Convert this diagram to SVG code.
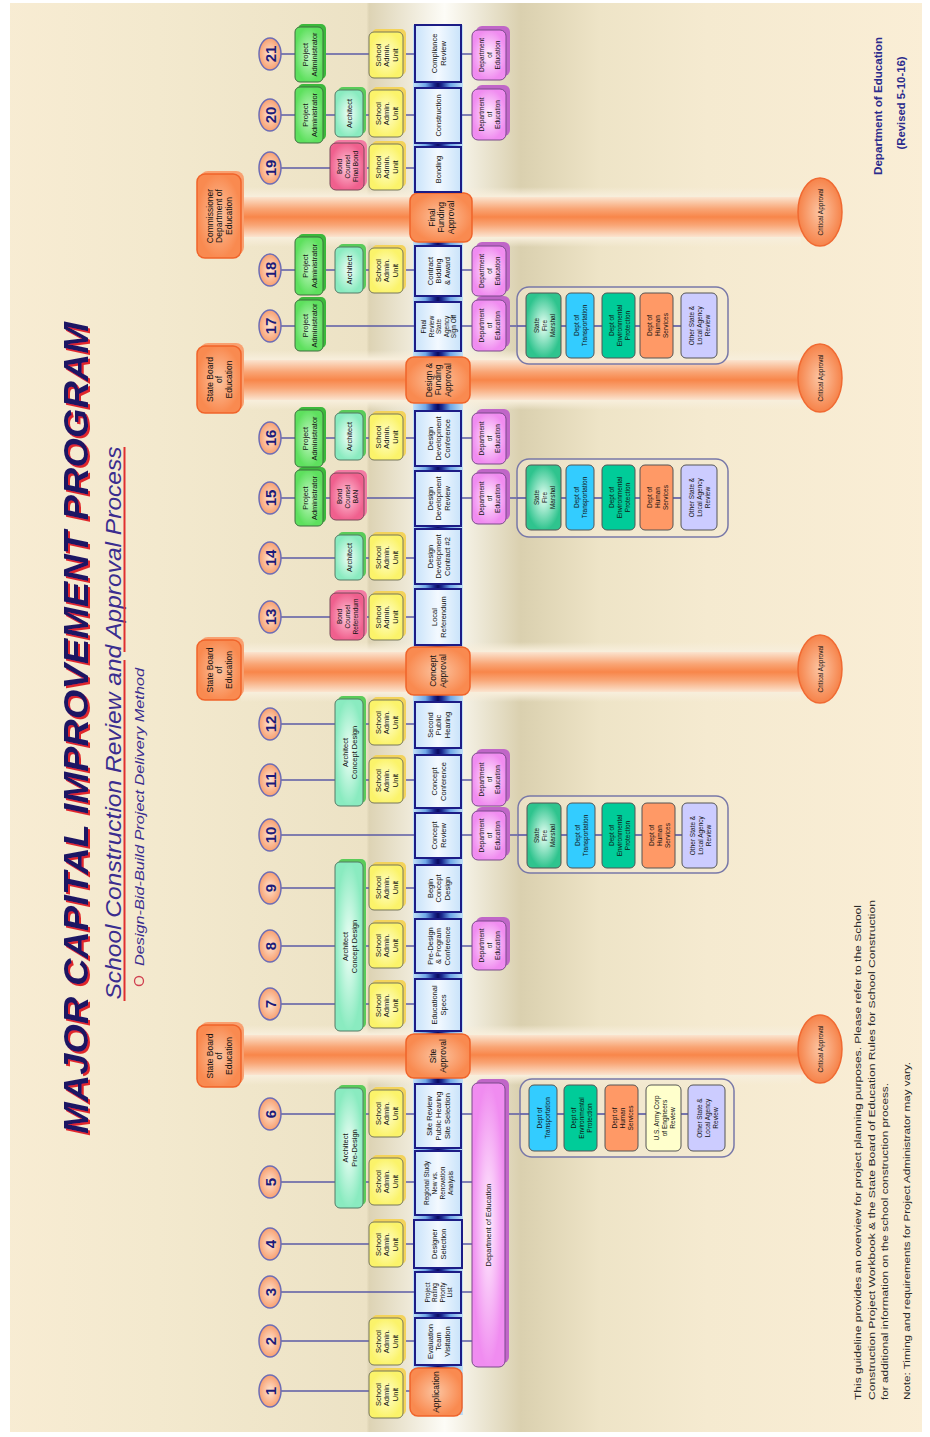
<svg xmlns="http://www.w3.org/2000/svg" width="930" height="1437" viewBox="0 0 930 1437">
<defs>
<linearGradient id="gBg" gradientUnits="userSpaceOnUse" x1="0" y1="0" x2="930" y2="0">
<stop offset="0" stop-color="#f8ecd3"/><stop offset="0.17" stop-color="#f3e9ce"/><stop offset="0.394" stop-color="#ece2c5"/><stop offset="0.397" stop-color="#ddd3b4"/><stop offset="0.478" stop-color="#fdfcf7"/><stop offset="0.56" stop-color="#dad0af"/><stop offset="0.645" stop-color="#eee4c7"/><stop offset="0.76" stop-color="#f5ead0"/><stop offset="1" stop-color="#faeed6"/>
</linearGradient>
<linearGradient id="gBand" x1="0" y1="0" x2="0" y2="1">
<stop offset="0" stop-color="#fbe4cf"/><stop offset="0.3" stop-color="#f9a575"/><stop offset="0.5" stop-color="#f8864a"/><stop offset="0.7" stop-color="#f9a575"/><stop offset="1" stop-color="#fbe4cf"/>
</linearGradient>
<linearGradient id="gGlow" x1="0" y1="0" x2="0" y2="1">
<stop offset="0" stop-color="#f7eedb" stop-opacity="0"/><stop offset="0.15" stop-color="#f7eedb"/><stop offset="0.85" stop-color="#f7eedb"/><stop offset="1" stop-color="#f7eedb" stop-opacity="0"/>
</linearGradient>
<linearGradient id="gSpine" x1="0" y1="0" x2="1" y2="0">
<stop offset="0" stop-color="#c2e1f8"/><stop offset="0.25" stop-color="#6fa8e8"/><stop offset="0.42" stop-color="#1a2a90"/><stop offset="0.5" stop-color="#0a0a60"/><stop offset="0.58" stop-color="#1a2a90"/><stop offset="0.75" stop-color="#6fa8e8"/><stop offset="1" stop-color="#c2e1f8"/>
</linearGradient>
<linearGradient id="gBlue" x1="0" y1="0" x2="1" y2="0">
<stop offset="0" stop-color="#c9e3fa"/><stop offset="0.5" stop-color="#f3f9ff"/><stop offset="1" stop-color="#c9e3fa"/>
</linearGradient>
<radialGradient id="gYel"><stop offset="0" stop-color="#ffffd2"/><stop offset="1" stop-color="#fbf36a"/></radialGradient>
<radialGradient id="gArch"><stop offset="0" stop-color="#f2fff9"/><stop offset="1" stop-color="#8aebc0"/></radialGradient>
<radialGradient id="gPA"><stop offset="0" stop-color="#c8f8c8"/><stop offset="1" stop-color="#5ee05e"/></radialGradient>
<radialGradient id="gBond"><stop offset="0" stop-color="#ffc8da"/><stop offset="1" stop-color="#f0608e"/></radialGradient>
<radialGradient id="gDoE"><stop offset="0" stop-color="#fff0fe"/><stop offset="1" stop-color="#f08cf0"/></radialGradient>
<radialGradient id="gOr"><stop offset="0" stop-color="#fcc4a0"/><stop offset="1" stop-color="#f98a50"/></radialGradient>
<radialGradient id="gNum"><stop offset="0" stop-color="#fde4d2"/><stop offset="1" stop-color="#f8a070"/></radialGradient>
<radialGradient id="gSFM"><stop offset="0" stop-color="#e8fff4"/><stop offset="1" stop-color="#2fc48e"/></radialGradient>
<radialGradient id="gCrit"><stop offset="0" stop-color="#fcc6a4"/><stop offset="1" stop-color="#f6834a"/></radialGradient>
<filter id="fRed" x="-5%" y="-5%" width="110%" height="110%">
<feOffset in="SourceAlpha" dx="-2" dy="2" result="o"/><feFlood flood-color="#e0282a"/><feComposite in2="o" operator="in" result="s"/><feMerge><feMergeNode in="s"/><feMergeNode in="SourceGraphic"/></feMerge>
</filter>
<style>
.t{font-family:"Liberation Sans",Arial,sans-serif;font-size:7.5px;fill:#111;text-anchor:middle;dominant-baseline:central}
.ts{font-size:6.5px}
.tb{font-size:8.5px}
.nt{font-family:"Liberation Sans",Arial,sans-serif;font-size:15px;font-weight:bold;fill:#1b1b7a;text-anchor:middle;dominant-baseline:central}
.num{fill:url(#gNum);stroke:#6d6db5;stroke-width:1.5}
.ln{stroke:#5b5ba6;stroke-width:1.4;fill:none}
.blue{fill:url(#gBlue);stroke:#1c1c86;stroke-width:2}
.yel{fill:url(#gYel);stroke:#77775a;stroke-width:1}
.ysh{fill:#f3d35a}
.arch{fill:url(#gArch);stroke:#557a66;stroke-width:1}
.ash{fill:#5acb5a}
.pa{fill:url(#gPA);stroke:#3f6f3f;stroke-width:1}
.psh{fill:#3cb83c}
.bond{fill:url(#gBond);stroke:#7a4a5a;stroke-width:1}
.bsh{fill:#f27aa3}
.doe{fill:url(#gDoE);stroke:#7a4a8a;stroke-width:1}
.dsh{fill:#c066c8}
.or{fill:url(#gOr);stroke:#f0642a;stroke-width:1.5}
.osh{fill:#f9a070}
.crit{fill:url(#gCrit);stroke:#f06a32;stroke-width:1.5}
.cont{fill:#f4ead2;stroke:#7878a8;stroke-width:1.5}
.ag{stroke:#555;stroke-width:1}
.dot{fill:#33ccff}.dep{fill:#00cc99}.dhs{fill:#ff9966}.army{fill:#ffffcc}.oth{fill:#ccccff}.sfm{fill:url(#gSFM)}
.band{fill:url(#gBand)}
.glow{fill:url(#gGlow)}
.ttl{font-family:"Liberation Sans",Arial,sans-serif;font-weight:bold;font-style:italic;font-size:35px;fill:#1b1464;text-anchor:middle}
.sub{font-family:"Liberation Sans",Arial,sans-serif;font-style:italic;fill:#3a2d8f;text-anchor:middle}
.foot{font-family:"Liberation Sans",Arial,sans-serif;font-size:9.5px;fill:#2a2a2a}
.dept{font-family:"Liberation Sans",Arial,sans-serif;font-size:11px;font-weight:bold;fill:#2b2b8c;text-anchor:middle}
</style>
</defs>

<rect x="0" y="0" width="930" height="1437" fill="#ffffff"/>
<rect x="10" y="3" width="912" height="1429" fill="url(#gBg)"/>

<g id="bands">
<rect class="glow" x="241" y="1025" width="560" height="60"/>
<rect class="glow" x="241" y="642" width="560" height="60"/>
<rect class="glow" x="241" y="350" width="560" height="60"/>
<rect class="glow" x="241" y="187" width="560" height="60"/>
<rect class="band" x="241" y="1035" width="565" height="40"/>
<rect class="band" x="241" y="652" width="565" height="40"/>
<rect class="band" x="241" y="360" width="565" height="40"/>
<rect class="band" x="241" y="197" width="565" height="40"/>
</g>

<rect id="spine" x="413" y="25" width="50" height="1390" fill="url(#gSpine)"/>

<g id="connectors">
<line class="ln" x1="281" y1="1391" x2="410" y2="1391"/>
<line class="ln" x1="281" y1="1341" x2="472" y2="1341"/>
<line class="ln" x1="281" y1="1292" x2="472" y2="1292"/>
<line class="ln" x1="281" y1="1244" x2="472" y2="1244"/>
<line class="ln" x1="281" y1="1182" x2="472" y2="1182"/>
<line class="ln" x1="281" y1="1114" x2="700" y2="1114"/>
<line class="ln" x1="281" y1="1004" x2="415" y2="1004"/>
<line class="ln" x1="281" y1="946" x2="475" y2="946"/>
<line class="ln" x1="281" y1="888" x2="415" y2="888"/>
<line class="ln" x1="281" y1="835" x2="700" y2="835"/>
<line class="ln" x1="281" y1="780" x2="475" y2="780"/>
<line class="ln" x1="281" y1="724" x2="415" y2="724"/>
<line class="ln" x1="281" y1="617" x2="415" y2="617"/>
<line class="ln" x1="281" y1="558" x2="415" y2="558"/>
<line class="ln" x1="281" y1="498" x2="700" y2="498"/>
<line class="ln" x1="281" y1="438" x2="475" y2="438"/>
<line class="ln" x1="281" y1="326" x2="700" y2="326"/>
<line class="ln" x1="281" y1="270" x2="475" y2="270"/>
<line class="ln" x1="281" y1="168" x2="415" y2="168"/>
<line class="ln" x1="281" y1="115" x2="475" y2="115"/>
<line class="ln" x1="281" y1="54" x2="475" y2="54"/>
</g>

<!-- step numbers -->
<g id="s1"><ellipse class="num" cx="270" cy="1391" rx="11" ry="16"/><text class="nt" transform="translate(270 1391) rotate(-90)">1</text></g>
<g id="s2"><ellipse class="num" cx="270" cy="1341" rx="11" ry="16"/><text class="nt" transform="translate(270 1341) rotate(-90)">2</text></g>
<g id="s3"><ellipse class="num" cx="270" cy="1292" rx="11" ry="16"/><text class="nt" transform="translate(270 1292) rotate(-90)">3</text></g>
<g id="s4"><ellipse class="num" cx="270" cy="1244" rx="11" ry="16"/><text class="nt" transform="translate(270 1244) rotate(-90)">4</text></g>
<g id="s5"><ellipse class="num" cx="270" cy="1182" rx="11" ry="16"/><text class="nt" transform="translate(270 1182) rotate(-90)">5</text></g>
<g id="s6"><ellipse class="num" cx="270" cy="1114" rx="11" ry="16"/><text class="nt" transform="translate(270 1114) rotate(-90)">6</text></g>
<g id="s7"><ellipse class="num" cx="270" cy="1004" rx="11" ry="16"/><text class="nt" transform="translate(270 1004) rotate(-90)">7</text></g>
<g id="s8"><ellipse class="num" cx="270" cy="946" rx="11" ry="16"/><text class="nt" transform="translate(270 946) rotate(-90)">8</text></g>
<g id="s9"><ellipse class="num" cx="270" cy="888" rx="11" ry="16"/><text class="nt" transform="translate(270 888) rotate(-90)">9</text></g>
<g id="s10"><ellipse class="num" cx="270" cy="835" rx="11" ry="16"/><text class="nt" transform="translate(270 835) rotate(-90)">10</text></g>
<g id="s11"><ellipse class="num" cx="270" cy="780" rx="11" ry="16"/><text class="nt" transform="translate(270 780) rotate(-90)">11</text></g>
<g id="s12"><ellipse class="num" cx="270" cy="724" rx="11" ry="16"/><text class="nt" transform="translate(270 724) rotate(-90)">12</text></g>
<g id="s13"><ellipse class="num" cx="270" cy="617" rx="11" ry="16"/><text class="nt" transform="translate(270 617) rotate(-90)">13</text></g>
<g id="s14"><ellipse class="num" cx="270" cy="558" rx="11" ry="16"/><text class="nt" transform="translate(270 558) rotate(-90)">14</text></g>
<g id="s15"><ellipse class="num" cx="270" cy="498" rx="11" ry="16"/><text class="nt" transform="translate(270 498) rotate(-90)">15</text></g>
<g id="s16"><ellipse class="num" cx="270" cy="438" rx="11" ry="16"/><text class="nt" transform="translate(270 438) rotate(-90)">16</text></g>
<g id="s17"><ellipse class="num" cx="270" cy="326" rx="11" ry="16"/><text class="nt" transform="translate(270 326) rotate(-90)">17</text></g>
<g id="s18"><ellipse class="num" cx="270" cy="270" rx="11" ry="16"/><text class="nt" transform="translate(270 270) rotate(-90)">18</text></g>
<g id="s19"><ellipse class="num" cx="270" cy="168" rx="11" ry="16"/><text class="nt" transform="translate(270 168) rotate(-90)">19</text></g>
<g id="s20"><ellipse class="num" cx="270" cy="115" rx="11" ry="16"/><text class="nt" transform="translate(270 115) rotate(-90)">20</text></g>
<g id="s21"><ellipse class="num" cx="270" cy="54" rx="11" ry="16"/><text class="nt" transform="translate(270 54) rotate(-90)">21</text></g>

<!-- authority boxes -->
<g id="auth-site"><rect class="osh" x="200" y="1022" width="44" height="62" rx="8"/><rect class="or" x="197" y="1025" width="44" height="62" rx="8"/><text class="t tb" transform="translate(219 1056) rotate(-90)"><tspan x="0" y="-9.5">State Board</tspan><tspan x="0" y="0">of</tspan><tspan x="0" y="9.5">Education</tspan></text></g>
<g id="auth-concept"><rect class="osh" x="200" y="637" width="44" height="60" rx="8"/><rect class="or" x="197" y="640" width="44" height="60" rx="8"/><text class="t tb" transform="translate(219 670) rotate(-90)"><tspan x="0" y="-9.5">State Board</tspan><tspan x="0" y="0">of</tspan><tspan x="0" y="9.5">Education</tspan></text></g>
<g id="auth-design"><rect class="osh" x="200" y="343" width="44" height="67" rx="8"/><rect class="or" x="197" y="346" width="44" height="67" rx="8"/><text class="t tb" transform="translate(219 379.5) rotate(-90)"><tspan x="0" y="-9.5">State Board</tspan><tspan x="0" y="0">of</tspan><tspan x="0" y="9.5">Education</tspan></text></g>
<g id="auth-final"><rect class="osh" x="200" y="171" width="44" height="84" rx="8"/><rect class="or" x="197" y="174" width="44" height="84" rx="8"/><text class="t tb" transform="translate(219 216) rotate(-90)"><tspan x="0" y="-9.5">Commissioner</tspan><tspan x="0" y="0">Department of</tspan><tspan x="0" y="9.5">Education</tspan></text></g>

<!-- approval boxes -->
<g id="app"><rect class="or" x="410" y="1368" width="52" height="48" rx="8"/><text class="t tb" transform="translate(436 1392) rotate(-90)"><tspan x="0" y="0">Application</tspan></text></g>
<g id="site-approval"><rect class="or" x="406" y="1034" width="64" height="44" rx="8"/><text class="t tb" transform="translate(438 1056) rotate(-90)"><tspan x="0" y="-5">Site</tspan><tspan x="0" y="5">Approval</tspan></text></g>
<g id="concept-approval"><rect class="or" x="406" y="647" width="64" height="48" rx="8"/><text class="t tb" transform="translate(438 671) rotate(-90)"><tspan x="0" y="-5">Concept</tspan><tspan x="0" y="5">Approval</tspan></text></g>
<g id="design-approval"><rect class="or" x="406" y="357" width="64" height="46" rx="8"/><text class="t tb" transform="translate(438 380) rotate(-90)"><tspan x="0" y="-9.5">Design &amp;</tspan><tspan x="0" y="0">Funding</tspan><tspan x="0" y="9.5">Approval</tspan></text></g>
<g id="final-approval"><rect class="or" x="410" y="193" width="62" height="49" rx="8"/><text class="t tb" transform="translate(441 217.5) rotate(-90)"><tspan x="0" y="-9.5">Final</tspan><tspan x="0" y="0">Funding</tspan><tspan x="0" y="9.5">Approval</tspan></text></g>

<!-- critical approvals -->
<g id="crit1"><ellipse class="crit" cx="820" cy="1049" rx="22" ry="34"/><text class="t ts" transform="translate(820 1049) rotate(-90)">Critical Approval</text></g>
<g id="crit2"><ellipse class="crit" cx="820" cy="669" rx="22" ry="34"/><text class="t ts" transform="translate(820 669) rotate(-90)">Critical Approval</text></g>
<g id="crit3"><ellipse class="crit" cx="820" cy="378" rx="22" ry="34"/><text class="t ts" transform="translate(820 378) rotate(-90)">Critical Approval</text></g>
<g id="crit4"><ellipse class="crit" cx="820" cy="212" rx="22" ry="34"/><text class="t ts" transform="translate(820 212) rotate(-90)">Critical Approval</text></g>

<!-- central step boxes -->
<g id="b2"><rect class="blue" x="415" y="1318" width="46" height="47"/><text class="t" transform="translate(438 1341.5) rotate(-90)"><tspan x="0" y="-8.5">Evaluation</tspan><tspan x="0" y="0">Team</tspan><tspan x="0" y="8.5">Visitation</tspan></text></g>
<g id="b3"><rect class="blue" x="415" y="1272" width="46" height="41"/><text class="t ts" transform="translate(438 1292.5) rotate(-90)"><tspan x="0" y="-11.25">Project</tspan><tspan x="0" y="-3.75">Rating</tspan><tspan x="0" y="3.75">Priority</tspan><tspan x="0" y="11.25">List</tspan></text></g>
<g id="b4"><rect class="blue" x="414" y="1220" width="48" height="48"/><text class="t" transform="translate(438 1244) rotate(-90)"><tspan x="0" y="-4.5">Designer</tspan><tspan x="0" y="4.5">Selection</tspan></text></g>
<g id="b5"><rect class="blue" x="415" y="1151" width="46" height="64"/><text class="t ts" transform="translate(438 1183) rotate(-90)"><tspan x="0" y="-12">Regional Study</tspan><tspan x="0" y="-4">New vs.</tspan><tspan x="0" y="4">Renovation</tspan><tspan x="0" y="12">Analysis</tspan></text></g>
<g id="b6"><rect class="blue" x="415" y="1084" width="46" height="64"/><text class="t" transform="translate(438 1116) rotate(-90)"><tspan x="0" y="-9">Site Review</tspan><tspan x="0" y="0">Public Hearing</tspan><tspan x="0" y="9">Site Selection</tspan></text></g>
<g id="b7"><rect class="blue" x="415" y="979" width="46" height="52"/><text class="t" transform="translate(438 1005) rotate(-90)"><tspan x="0" y="-4.5">Educational</tspan><tspan x="0" y="4.5">Specs</tspan></text></g>
<g id="b8"><rect class="blue" x="415" y="919" width="46" height="54"/><text class="t" transform="translate(438 946) rotate(-90)"><tspan x="0" y="-8.5">Pre-Design</tspan><tspan x="0" y="0">&amp; Program</tspan><tspan x="0" y="8.5">Conference</tspan></text></g>
<g id="b9"><rect class="blue" x="415" y="865" width="46" height="47"/><text class="t" transform="translate(438 888.5) rotate(-90)"><tspan x="0" y="-8.5">Begin</tspan><tspan x="0" y="0">Concept</tspan><tspan x="0" y="8.5">Design</tspan></text></g>
<g id="b10"><rect class="blue" x="415" y="813" width="46" height="45"/><text class="t" transform="translate(438 835.5) rotate(-90)"><tspan x="0" y="-4.5">Concept</tspan><tspan x="0" y="4.5">Review</tspan></text></g>
<g id="b11"><rect class="blue" x="415" y="755" width="46" height="53"/><text class="t" transform="translate(438 781.5) rotate(-90)"><tspan x="0" y="-4.5">Concept</tspan><tspan x="0" y="4.5">Conference</tspan></text></g>
<g id="b12"><rect class="blue" x="415" y="702" width="46" height="46"/><text class="t" transform="translate(438 725) rotate(-90)"><tspan x="0" y="-8.5">Second</tspan><tspan x="0" y="0">Public</tspan><tspan x="0" y="8.5">Hearing</tspan></text></g>
<g id="b13"><rect class="blue" x="415" y="589" width="46" height="56"/><text class="t" transform="translate(438 617) rotate(-90)"><tspan x="0" y="-4.5">Local</tspan><tspan x="0" y="4.5">Referendum</tspan></text></g>
<g id="b14"><rect class="blue" x="415" y="529" width="46" height="55"/><text class="t" transform="translate(438 556.5) rotate(-90)"><tspan x="0" y="-8.5">Design</tspan><tspan x="0" y="0">Development</tspan><tspan x="0" y="8.5">Contract #2</tspan></text></g>
<g id="b15"><rect class="blue" x="415" y="471" width="46" height="55"/><text class="t" transform="translate(438 498.5) rotate(-90)"><tspan x="0" y="-8.5">Design</tspan><tspan x="0" y="0">Development</tspan><tspan x="0" y="8.5">Review</tspan></text></g>
<g id="b16"><rect class="blue" x="415" y="411" width="46" height="55"/><text class="t" transform="translate(438 438.5) rotate(-90)"><tspan x="0" y="-8.5">Design</tspan><tspan x="0" y="0">Development</tspan><tspan x="0" y="8.5">Conference</tspan></text></g>
<g id="b17"><rect class="blue" x="415" y="302" width="46" height="49"/><text class="t ts" transform="translate(438 326.5) rotate(-90)"><tspan x="0" y="-15">Final</tspan><tspan x="0" y="-7.5">Review</tspan><tspan x="0" y="0">State</tspan><tspan x="0" y="7.5">Agency</tspan><tspan x="0" y="15">Sign Off</tspan></text></g>
<g id="b18"><rect class="blue" x="415" y="246" width="46" height="50"/><text class="t" transform="translate(438 271) rotate(-90)"><tspan x="0" y="-8.5">Contract</tspan><tspan x="0" y="0">Bidding</tspan><tspan x="0" y="8.5">&amp; Award</tspan></text></g>
<g id="b19"><rect class="blue" x="415" y="147" width="46" height="45"/><text class="t" transform="translate(438 169.5) rotate(-90)"><tspan x="0" y="0">Bonding</tspan></text></g>
<g id="b20"><rect class="blue" x="415" y="88" width="46" height="55"/><text class="t" transform="translate(438 115.5) rotate(-90)"><tspan x="0" y="0">Construction</tspan></text></g>
<g id="b21"><rect class="blue" x="415" y="25" width="46" height="57"/><text class="t" transform="translate(438 53.5) rotate(-90)"><tspan x="0" y="-4.5">Compliance</tspan><tspan x="0" y="4.5">Review</tspan></text></g>

<!-- School Admin. Unit -->
<g id="y1"><rect class="ysh" x="372" y="1368" width="34" height="47" rx="5"/><rect class="yel" x="369" y="1371" width="34" height="47" rx="5"/><text class="t" transform="translate(386 1394.5) rotate(-90)"><tspan x="0" y="-8.5">School</tspan><tspan x="0" y="0">Admin.</tspan><tspan x="0" y="8.5">Unit</tspan></text></g>
<g id="y2"><rect class="ysh" x="372" y="1315" width="34" height="47" rx="5"/><rect class="yel" x="369" y="1318" width="34" height="47" rx="5"/><text class="t" transform="translate(386 1341.5) rotate(-90)"><tspan x="0" y="-8.5">School</tspan><tspan x="0" y="0">Admin.</tspan><tspan x="0" y="8.5">Unit</tspan></text></g>
<g id="y4"><rect class="ysh" x="372" y="1219" width="34" height="45" rx="5"/><rect class="yel" x="369" y="1222" width="34" height="45" rx="5"/><text class="t" transform="translate(386 1244.5) rotate(-90)"><tspan x="0" y="-8.5">School</tspan><tspan x="0" y="0">Admin.</tspan><tspan x="0" y="8.5">Unit</tspan></text></g>
<g id="y5"><rect class="ysh" x="372" y="1155" width="34" height="47" rx="5"/><rect class="yel" x="369" y="1158" width="34" height="47" rx="5"/><text class="t" transform="translate(386 1181.5) rotate(-90)"><tspan x="0" y="-8.5">School</tspan><tspan x="0" y="0">Admin.</tspan><tspan x="0" y="8.5">Unit</tspan></text></g>
<g id="y6"><rect class="ysh" x="372" y="1087" width="34" height="47" rx="5"/><rect class="yel" x="369" y="1090" width="34" height="47" rx="5"/><text class="t" transform="translate(386 1113.5) rotate(-90)"><tspan x="0" y="-8.5">School</tspan><tspan x="0" y="0">Admin.</tspan><tspan x="0" y="8.5">Unit</tspan></text></g>
<g id="y7"><rect class="ysh" x="372" y="980" width="34" height="45" rx="5"/><rect class="yel" x="369" y="983" width="34" height="45" rx="5"/><text class="t" transform="translate(386 1005.5) rotate(-90)"><tspan x="0" y="-8.5">School</tspan><tspan x="0" y="0">Admin.</tspan><tspan x="0" y="8.5">Unit</tspan></text></g>
<g id="y8"><rect class="ysh" x="372" y="920" width="34" height="45" rx="5"/><rect class="yel" x="369" y="923" width="34" height="45" rx="5"/><text class="t" transform="translate(386 945.5) rotate(-90)"><tspan x="0" y="-8.5">School</tspan><tspan x="0" y="0">Admin.</tspan><tspan x="0" y="8.5">Unit</tspan></text></g>
<g id="y9"><rect class="ysh" x="372" y="862" width="34" height="45" rx="5"/><rect class="yel" x="369" y="865" width="34" height="45" rx="5"/><text class="t" transform="translate(386 887.5) rotate(-90)"><tspan x="0" y="-8.5">School</tspan><tspan x="0" y="0">Admin.</tspan><tspan x="0" y="8.5">Unit</tspan></text></g>
<g id="y11"><rect class="ysh" x="372" y="755" width="34" height="45" rx="5"/><rect class="yel" x="369" y="758" width="34" height="45" rx="5"/><text class="t" transform="translate(386 780.5) rotate(-90)"><tspan x="0" y="-8.5">School</tspan><tspan x="0" y="0">Admin.</tspan><tspan x="0" y="8.5">Unit</tspan></text></g>
<g id="y12"><rect class="ysh" x="372" y="697" width="34" height="45" rx="5"/><rect class="yel" x="369" y="700" width="34" height="45" rx="5"/><text class="t" transform="translate(386 722.5) rotate(-90)"><tspan x="0" y="-8.5">School</tspan><tspan x="0" y="0">Admin.</tspan><tspan x="0" y="8.5">Unit</tspan></text></g>
<g id="y13"><rect class="ysh" x="372" y="591" width="34" height="46" rx="5"/><rect class="yel" x="369" y="594" width="34" height="46" rx="5"/><text class="t" transform="translate(386 617) rotate(-90)"><tspan x="0" y="-8.5">School</tspan><tspan x="0" y="0">Admin.</tspan><tspan x="0" y="8.5">Unit</tspan></text></g>
<g id="y14"><rect class="ysh" x="372" y="532" width="34" height="45" rx="5"/><rect class="yel" x="369" y="535" width="34" height="45" rx="5"/><text class="t" transform="translate(386 557.5) rotate(-90)"><tspan x="0" y="-8.5">School</tspan><tspan x="0" y="0">Admin.</tspan><tspan x="0" y="8.5">Unit</tspan></text></g>
<g id="y16"><rect class="ysh" x="372" y="411" width="34" height="46" rx="5"/><rect class="yel" x="369" y="414" width="34" height="46" rx="5"/><text class="t" transform="translate(386 437) rotate(-90)"><tspan x="0" y="-8.5">School</tspan><tspan x="0" y="0">Admin.</tspan><tspan x="0" y="8.5">Unit</tspan></text></g>
<g id="y18"><rect class="ysh" x="372" y="245" width="34" height="45" rx="5"/><rect class="yel" x="369" y="248" width="34" height="45" rx="5"/><text class="t" transform="translate(386 270.5) rotate(-90)"><tspan x="0" y="-8.5">School</tspan><tspan x="0" y="0">Admin.</tspan><tspan x="0" y="8.5">Unit</tspan></text></g>
<g id="y19"><rect class="ysh" x="372" y="141" width="34" height="46" rx="5"/><rect class="yel" x="369" y="144" width="34" height="46" rx="5"/><text class="t" transform="translate(386 167) rotate(-90)"><tspan x="0" y="-8.5">School</tspan><tspan x="0" y="0">Admin.</tspan><tspan x="0" y="8.5">Unit</tspan></text></g>
<g id="y20"><rect class="ysh" x="372" y="87" width="34" height="47" rx="5"/><rect class="yel" x="369" y="90" width="34" height="47" rx="5"/><text class="t" transform="translate(386 113.5) rotate(-90)"><tspan x="0" y="-8.5">School</tspan><tspan x="0" y="0">Admin.</tspan><tspan x="0" y="8.5">Unit</tspan></text></g>
<g id="y21"><rect class="ysh" x="372" y="29" width="34" height="46" rx="5"/><rect class="yel" x="369" y="32" width="34" height="46" rx="5"/><text class="t" transform="translate(386 55) rotate(-90)"><tspan x="0" y="-8.5">School</tspan><tspan x="0" y="0">Admin.</tspan><tspan x="0" y="8.5">Unit</tspan></text></g>

<!-- Architect -->
<g id="arch1"><rect class="ash" x="338" y="1085" width="28" height="120" rx="5"/><rect class="arch" x="335" y="1088" width="28" height="120" rx="5"/><text class="t" transform="translate(349 1148) rotate(-90)"><tspan x="0" y="-4.5">Architect</tspan><tspan x="0" y="4.5">Pre-Design</tspan></text></g>
<g id="arch2"><rect class="ash" x="338" y="859" width="28" height="169" rx="5"/><rect class="arch" x="335" y="862" width="28" height="169" rx="5"/><text class="t" transform="translate(349 946.5) rotate(-90)"><tspan x="0" y="-4.5">Architect</tspan><tspan x="0" y="4.5">Concept Design</tspan></text></g>
<g id="arch3"><rect class="ash" x="338" y="696" width="28" height="107" rx="5"/><rect class="arch" x="335" y="699" width="28" height="107" rx="5"/><text class="t" transform="translate(349 752.5) rotate(-90)"><tspan x="0" y="-4.5">Architect</tspan><tspan x="0" y="4.5">Concept Design</tspan></text></g>
<g id="arch14"><rect class="ash" x="338" y="532" width="28" height="45" rx="5"/><rect class="arch" x="335" y="535" width="28" height="45" rx="5"/><text class="t" transform="translate(349 557.5) rotate(-90)">Architect</text></g>
<g id="arch16"><rect class="ash" x="338" y="410" width="28" height="47" rx="5"/><rect class="arch" x="335" y="413" width="28" height="47" rx="5"/><text class="t" transform="translate(349 436.5) rotate(-90)">Architect</text></g>
<g id="arch18"><rect class="ash" x="338" y="244" width="28" height="46" rx="5"/><rect class="arch" x="335" y="247" width="28" height="46" rx="5"/><text class="t" transform="translate(349 270) rotate(-90)">Architect</text></g>
<g id="arch20"><rect class="ash" x="338" y="87" width="28" height="47" rx="5"/><rect class="arch" x="335" y="90" width="28" height="47" rx="5"/><text class="t" transform="translate(349 113.5) rotate(-90)">Architect</text></g>

<!-- Bond Counsel -->
<g id="bond13"><rect class="bsh" x="333" y="590" width="34" height="47" rx="6"/><rect class="bond" x="330" y="593" width="34" height="47" rx="6"/><text class="t ts" transform="translate(347 616.5) rotate(-90)"><tspan x="0" y="-8">Bond</tspan><tspan x="0" y="0">Counsel</tspan><tspan x="0" y="8">Referendum</tspan></text></g>
<g id="bond15"><rect class="bsh" x="333" y="470" width="34" height="47" rx="6"/><rect class="bond" x="330" y="473" width="34" height="47" rx="6"/><text class="t ts" transform="translate(347 496.5) rotate(-90)"><tspan x="0" y="-8">Bond</tspan><tspan x="0" y="0">Counsel</tspan><tspan x="0" y="8">BAN</tspan></text></g>
<g id="bond19"><rect class="bsh" x="333" y="140" width="34" height="47" rx="6"/><rect class="bond" x="330" y="143" width="34" height="47" rx="6"/><text class="t ts" transform="translate(347 166.5) rotate(-90)"><tspan x="0" y="-8">Bond</tspan><tspan x="0" y="0">Counsel</tspan><tspan x="0" y="8">Final Bond</tspan></text></g>

<!-- Project Administrator -->
<g id="pa15"><rect class="psh" x="298" y="467" width="28" height="56" rx="5"/><rect class="pa" x="295" y="470" width="28" height="56" rx="5"/><text class="t" transform="translate(309 498) rotate(-90)"><tspan x="0" y="-4.5">Project</tspan><tspan x="0" y="4.5">Administrator</tspan></text></g>
<g id="pa16"><rect class="psh" x="298" y="407" width="28" height="57" rx="5"/><rect class="pa" x="295" y="410" width="28" height="57" rx="5"/><text class="t" transform="translate(309 438.5) rotate(-90)"><tspan x="0" y="-4.5">Project</tspan><tspan x="0" y="4.5">Administrator</tspan></text></g>
<g id="pa17"><rect class="psh" x="298" y="297" width="28" height="51" rx="5"/><rect class="pa" x="295" y="300" width="28" height="51" rx="5"/><text class="t" transform="translate(309 325.5) rotate(-90)"><tspan x="0" y="-4.5">Project</tspan><tspan x="0" y="4.5">Administrator</tspan></text></g>
<g id="pa18"><rect class="psh" x="298" y="234" width="28" height="58" rx="5"/><rect class="pa" x="295" y="237" width="28" height="58" rx="5"/><text class="t" transform="translate(309 266) rotate(-90)"><tspan x="0" y="-4.5">Project</tspan><tspan x="0" y="4.5">Administrator</tspan></text></g>
<g id="pa20"><rect class="psh" x="298" y="84" width="28" height="56" rx="5"/><rect class="pa" x="295" y="87" width="28" height="56" rx="5"/><text class="t" transform="translate(309 115) rotate(-90)"><tspan x="0" y="-4.5">Project</tspan><tspan x="0" y="4.5">Administrator</tspan></text></g>
<g id="pa21"><rect class="psh" x="298" y="24" width="28" height="55" rx="5"/><rect class="pa" x="295" y="27" width="28" height="55" rx="5"/><text class="t" transform="translate(309 54.5) rotate(-90)"><tspan x="0" y="-4.5">Project</tspan><tspan x="0" y="4.5">Administrator</tspan></text></g>

<!-- Department of Education -->
<g id="doe-big"><rect class="dsh" x="476" y="1079" width="33" height="284" rx="6"/><rect class="doe" x="472" y="1083" width="33" height="284" rx="6"/><text class="t" transform="translate(488.5 1225) rotate(-90)">Department of Education</text></g>
<g id="doe8"><rect class="dsh" x="476" y="917" width="34" height="49" rx="6"/><rect class="doe" x="472" y="921" width="34" height="49" rx="6"/><text class="t ts" transform="translate(489 945.5) rotate(-90)"><tspan x="0" y="-8">Department</tspan><tspan x="0" y="0">of</tspan><tspan x="0" y="8">Education</tspan></text></g>
<g id="doe10"><rect class="dsh" x="476" y="807" width="34" height="49" rx="6"/><rect class="doe" x="472" y="811" width="34" height="49" rx="6"/><text class="t ts" transform="translate(489 835.5) rotate(-90)"><tspan x="0" y="-8">Department</tspan><tspan x="0" y="0">of</tspan><tspan x="0" y="8">Education</tspan></text></g>
<g id="doe11"><rect class="dsh" x="476" y="749" width="34" height="53" rx="6"/><rect class="doe" x="472" y="753" width="34" height="53" rx="6"/><text class="t ts" transform="translate(489 779.5) rotate(-90)"><tspan x="0" y="-8">Department</tspan><tspan x="0" y="0">of</tspan><tspan x="0" y="8">Education</tspan></text></g>
<g id="doe15"><rect class="dsh" x="476" y="469" width="34" height="51" rx="6"/><rect class="doe" x="472" y="473" width="34" height="51" rx="6"/><text class="t ts" transform="translate(489 498.5) rotate(-90)"><tspan x="0" y="-8">Department</tspan><tspan x="0" y="0">of</tspan><tspan x="0" y="8">Education</tspan></text></g>
<g id="doe16"><rect class="dsh" x="476" y="409" width="34" height="51" rx="6"/><rect class="doe" x="472" y="413" width="34" height="51" rx="6"/><text class="t ts" transform="translate(489 438.5) rotate(-90)"><tspan x="0" y="-8">Department</tspan><tspan x="0" y="0">of</tspan><tspan x="0" y="8">Education</tspan></text></g>
<g id="doe17"><rect class="dsh" x="476" y="296" width="34" height="51" rx="6"/><rect class="doe" x="472" y="300" width="34" height="51" rx="6"/><text class="t ts" transform="translate(489 325.5) rotate(-90)"><tspan x="0" y="-8">Department</tspan><tspan x="0" y="0">of</tspan><tspan x="0" y="8">Education</tspan></text></g>
<g id="doe18"><rect class="dsh" x="476" y="242" width="34" height="50" rx="6"/><rect class="doe" x="472" y="246" width="34" height="50" rx="6"/><text class="t ts" transform="translate(489 271) rotate(-90)"><tspan x="0" y="-8">Department</tspan><tspan x="0" y="0">of</tspan><tspan x="0" y="8">Education</tspan></text></g>
<g id="doe20"><rect class="dsh" x="476" y="85" width="34" height="51" rx="6"/><rect class="doe" x="472" y="89" width="34" height="51" rx="6"/><text class="t ts" transform="translate(489 114.5) rotate(-90)"><tspan x="0" y="-8">Department</tspan><tspan x="0" y="0">of</tspan><tspan x="0" y="8">Education</tspan></text></g>
<g id="doe21"><rect class="dsh" x="476" y="26" width="34" height="50" rx="6"/><rect class="doe" x="472" y="30" width="34" height="50" rx="6"/><text class="t ts" transform="translate(489 55) rotate(-90)"><tspan x="0" y="-8">Department</tspan><tspan x="0" y="0">of</tspan><tspan x="0" y="8">Education</tspan></text></g>

<!-- agency group, step 6 -->
<g id="c6">
<rect class="cont" x="520" y="1079" width="214" height="78" rx="12" fill-opacity="0.6"/>
<line class="ln" x1="520" y1="1114" x2="700" y2="1114"/>
<g id="c6-dot"><rect class="ag dot" x="529" y="1085" width="28" height="66" rx="5"/><text class="t ts" transform="translate(543 1118) rotate(-90)"><tspan x="0" y="-4">Dept of</tspan><tspan x="0" y="4">Transportation</tspan></text></g>
<g id="c6-dep"><rect class="ag dep" x="564" y="1085" width="33" height="66" rx="5"/><text class="t ts" transform="translate(580.5 1118) rotate(-90)"><tspan x="0" y="-8">Dept of</tspan><tspan x="0" y="0">Environmental</tspan><tspan x="0" y="8">Protection</tspan></text></g>
<g id="c6-dhs"><rect class="ag dhs" x="605" y="1085" width="33" height="66" rx="5"/><text class="t ts" transform="translate(621.5 1118) rotate(-90)"><tspan x="0" y="-8">Dept of</tspan><tspan x="0" y="0">Human</tspan><tspan x="0" y="8">Services</tspan></text></g>
<g id="c6-army"><rect class="ag army" x="646" y="1085" width="35" height="66" rx="5"/><text class="t ts" transform="translate(663.5 1118) rotate(-90)"><tspan x="0" y="-8">U.S. Army Corp</tspan><tspan x="0" y="0">of Engineers</tspan><tspan x="0" y="8">Review</tspan></text></g>
<g id="c6-oth"><rect class="ag oth" x="688" y="1085" width="37" height="66" rx="5"/><text class="t ts" transform="translate(706.5 1118) rotate(-90)"><tspan x="0" y="-8">Other State &amp;</tspan><tspan x="0" y="0">Local Agency</tspan><tspan x="0" y="8">Review</tspan></text></g>
</g>

<!-- agency group, step 10 -->
<g id="c10">
<rect class="cont" x="518" y="796" width="210" height="77" rx="12" fill-opacity="0.6"/>
<line class="ln" x1="518" y1="835" x2="700" y2="835"/>
<g id="c10-sfm"><rect class="ag sfm" x="527" y="803" width="34" height="65" rx="5"/><text class="t ts" transform="translate(544 835.5) rotate(-90)"><tspan x="0" y="-8">State</tspan><tspan x="0" y="0">Fire</tspan><tspan x="0" y="8">Marshal</tspan></text></g>
<g id="c10-dot"><rect class="ag dot" x="567" y="803" width="28" height="65" rx="5"/><text class="t ts" transform="translate(581 835.5) rotate(-90)"><tspan x="0" y="-4">Dept of</tspan><tspan x="0" y="4">Transportation</tspan></text></g>
<g id="c10-dep"><rect class="ag dep" x="602" y="803" width="33" height="65" rx="5"/><text class="t ts" transform="translate(618.5 835.5) rotate(-90)"><tspan x="0" y="-8">Dept of</tspan><tspan x="0" y="0">Environmental</tspan><tspan x="0" y="8">Protection</tspan></text></g>
<g id="c10-dhs"><rect class="ag dhs" x="642" y="803" width="33" height="65" rx="5"/><text class="t ts" transform="translate(658.5 835.5) rotate(-90)"><tspan x="0" y="-8">Dept of</tspan><tspan x="0" y="0">Human</tspan><tspan x="0" y="8">Services</tspan></text></g>
<g id="c10-oth"><rect class="ag oth" x="682" y="803" width="35" height="65" rx="5"/><text class="t ts" transform="translate(699.5 835.5) rotate(-90)"><tspan x="0" y="-8">Other State &amp;</tspan><tspan x="0" y="0">Local Agency</tspan><tspan x="0" y="8">Review</tspan></text></g>
</g>

<!-- agency group, step 15 -->
<g id="c15">
<rect class="cont" x="517" y="459" width="211" height="78" rx="12" fill-opacity="0.6"/>
<line class="ln" x1="517" y1="498" x2="700" y2="498"/>
<g id="c15-sfm"><rect class="ag sfm" x="526" y="465" width="35" height="65" rx="5"/><text class="t ts" transform="translate(543.5 497.5) rotate(-90)"><tspan x="0" y="-8">State</tspan><tspan x="0" y="0">Fire</tspan><tspan x="0" y="8">Marshal</tspan></text></g>
<g id="c15-dot"><rect class="ag dot" x="566" y="465" width="28" height="65" rx="5"/><text class="t ts" transform="translate(580 497.5) rotate(-90)"><tspan x="0" y="-4">Dept of</tspan><tspan x="0" y="4">Transportation</tspan></text></g>
<g id="c15-dep"><rect class="ag dep" x="602" y="465" width="33" height="65" rx="5"/><text class="t ts" transform="translate(618.5 497.5) rotate(-90)"><tspan x="0" y="-8">Dept of</tspan><tspan x="0" y="0">Environmental</tspan><tspan x="0" y="8">Protection</tspan></text></g>
<g id="c15-dhs"><rect class="ag dhs" x="640" y="465" width="33" height="65" rx="5"/><text class="t ts" transform="translate(656.5 497.5) rotate(-90)"><tspan x="0" y="-8">Dept of</tspan><tspan x="0" y="0">Human</tspan><tspan x="0" y="8">Services</tspan></text></g>
<g id="c15-oth"><rect class="ag oth" x="681" y="465" width="36" height="65" rx="5"/><text class="t ts" transform="translate(699 497.5) rotate(-90)"><tspan x="0" y="-8">Other State &amp;</tspan><tspan x="0" y="0">Local Agency</tspan><tspan x="0" y="8">Review</tspan></text></g>
</g>

<!-- agency group, step 17 -->
<g id="c17">
<rect class="cont" x="517" y="287" width="211" height="77" rx="12" fill-opacity="0.6"/>
<line class="ln" x1="517" y1="326" x2="700" y2="326"/>
<g id="c17-sfm"><rect class="ag sfm" x="526" y="293" width="35" height="65" rx="5"/><text class="t ts" transform="translate(543.5 325.5) rotate(-90)"><tspan x="0" y="-8">State</tspan><tspan x="0" y="0">Fire</tspan><tspan x="0" y="8">Marshal</tspan></text></g>
<g id="c17-dot"><rect class="ag dot" x="566" y="293" width="28" height="65" rx="5"/><text class="t ts" transform="translate(580 325.5) rotate(-90)"><tspan x="0" y="-4">Dept of</tspan><tspan x="0" y="4">Transportation</tspan></text></g>
<g id="c17-dep"><rect class="ag dep" x="602" y="293" width="33" height="65" rx="5"/><text class="t ts" transform="translate(618.5 325.5) rotate(-90)"><tspan x="0" y="-8">Dept of</tspan><tspan x="0" y="0">Environmental</tspan><tspan x="0" y="8">Protection</tspan></text></g>
<g id="c17-dhs"><rect class="ag dhs" x="640" y="293" width="33" height="65" rx="5"/><text class="t ts" transform="translate(656.5 325.5) rotate(-90)"><tspan x="0" y="-8">Dept of</tspan><tspan x="0" y="0">Human</tspan><tspan x="0" y="8">Services</tspan></text></g>
<g id="c17-oth"><rect class="ag oth" x="681" y="293" width="36" height="65" rx="5"/><text class="t ts" transform="translate(699 325.5) rotate(-90)"><tspan x="0" y="-8">Other State &amp;</tspan><tspan x="0" y="0">Local Agency</tspan><tspan x="0" y="8">Review</tspan></text></g>
</g>

<!-- titles -->
<g id="title">
<text class="ttl" filter="url(#fRed)" transform="translate(88 728) rotate(-90)" textLength="812" lengthAdjust="spacingAndGlyphs">MAJOR CAPITAL IMPROVEMENT PROGRAM</text>
<text class="sub" font-size="22" transform="translate(121 723) rotate(-90)" textLength="553" lengthAdjust="spacingAndGlyphs">School Construction Review and Approval Process</text>
<line x1="124.5" y1="1001" x2="124.5" y2="660" stroke="#e03030" stroke-width="2"/>
<line x1="124.5" y1="652" x2="124.5" y2="447" stroke="#e03030" stroke-width="2"/>
<circle cx="139" cy="981" r="4.5" fill="none" stroke="#d04050" stroke-width="1.3"/>
<text class="sub" font-size="13.5" transform="translate(144 817) rotate(-90)" textLength="298" lengthAdjust="spacingAndGlyphs">Design-Bid-Build Project Delivery Method</text>
</g>

<g id="footer">
<text class="foot" transform="translate(861 1400) rotate(-90)" textLength="495" lengthAdjust="spacingAndGlyphs">This guideline provides an overview for project planning purposes. Please refer to the School</text>
<text class="foot" transform="translate(875 1400) rotate(-90)" textLength="500" lengthAdjust="spacingAndGlyphs">Construction Project Workbook &amp; the State Board of Education Rules for School Construction</text>
<text class="foot" transform="translate(888 1400) rotate(-90)" textLength="317" lengthAdjust="spacingAndGlyphs">for additional information on the school construction process.</text>
<text class="foot" transform="translate(910 1400) rotate(-90)" textLength="338" lengthAdjust="spacingAndGlyphs">Note: Timing and requirements for Project Administrator may vary.</text>
<text class="dept" transform="translate(882 106) rotate(-90)" textLength="138" lengthAdjust="spacingAndGlyphs">Department of Education</text>
<text class="dept" transform="translate(905 103) rotate(-90)" textLength="93" lengthAdjust="spacingAndGlyphs">(Revised 5-10-16)</text>
</g>
</svg>
